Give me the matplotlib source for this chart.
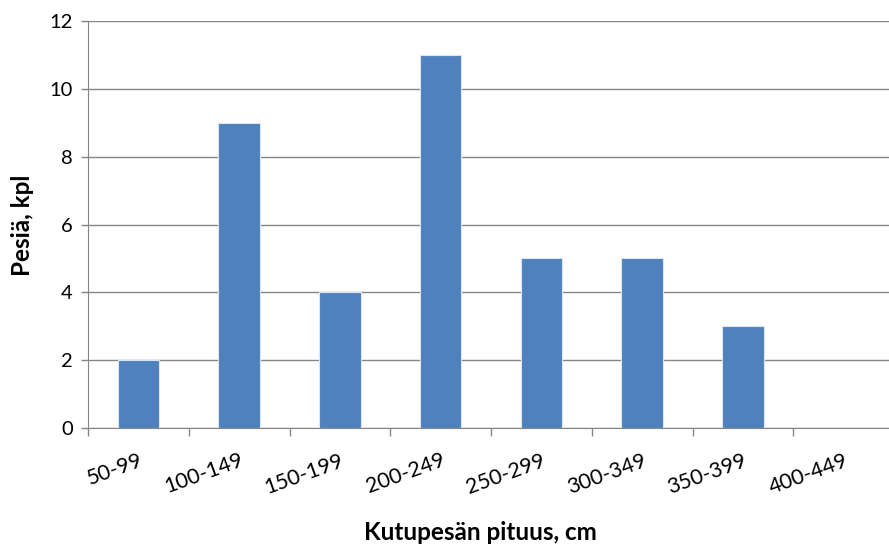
import matplotlib
matplotlib.use("Agg")
import matplotlib.pyplot as plt
import numpy as np

categories = ["50-99", "100-149", "150-199", "200-249", "250-299", "300-349", "350-399", "400-449"]
counts = [2, 9, 4, 11, 5, 5, 3, 0]
yticks = [0, 2, 4, 6, 8, 10, 12]

plt.rcParams['font.family'] = ['Lato', 'DejaVu Sans']

W, H = 889, 550
fig = plt.figure(figsize=(W/100, H/100), dpi=100)
left, right, top, bottom = 88, 894, 21, 428
ax = fig.add_axes([left/W, 1 - bottom/H, (right-left)/W, (bottom-top)/H])

x = np.arange(len(categories))
ax.bar(x, counts, width=0.41, color="#4F81BD", edgecolor="#DCE6F2", linewidth=0.8, zorder=3)

ax.set_xlim(-0.5, len(categories) - 0.5)
ax.set_ylim(0, 12)
ax.set_yticks(yticks)
ax.set_yticklabels([str(v) for v in yticks], fontsize=14.5)
ax.yaxis.grid(True, color="#868686", linewidth=1, zorder=0)
ax.set_axisbelow(True)

ax.set_xticks(x)
ax.set_xticklabels(categories, fontsize=15.5, rotation=20, ha="right", va="top", rotation_mode="anchor")
ax.set_xticks(np.arange(-0.5, len(categories), 1.0), minor=True)
ax.tick_params(axis="x", which="major", length=0, pad=16)
ax.tick_params(axis="x", which="minor", length=6, color="#868686", width=1)
ax.tick_params(axis="y", length=5, color="#868686", width=1, pad=6)

for s in ["top", "right"]:
    ax.spines[s].set_visible(False)
ax.spines["left"].set_color("#868686")
ax.spines["bottom"].set_color("#868686")

fig.text(480/W, 1 - 533/H, "Kutupesän pituus, cm", fontsize=17.5, fontweight="bold", ha="center", va="center")
fig.text(22/W, 1 - 225/H, "Pesiä, kpl", fontsize=17.5, fontweight="bold", ha="center", va="center", rotation=90)

fig.savefig("out.png", dpi=100)
